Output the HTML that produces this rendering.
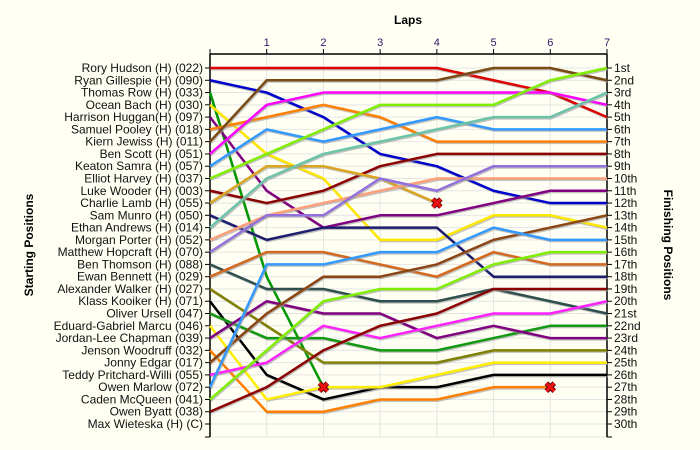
<!DOCTYPE html>
<html><head><meta charset="utf-8"><style>
html,body{margin:0;padding:0;background:#fffff4;}
svg{display:block;font-family:"Liberation Sans",sans-serif;}
</style></head><body>
<svg id="chart" width="700" height="450" viewBox="0 0 700 450">
<rect width="700" height="450" fill="#fffff4"/>
<text x="408" y="24" font-size="12" font-weight="bold" text-anchor="middle">Laps</text>
<text transform="translate(33,245) rotate(-90)" font-size="12" font-weight="bold" text-anchor="middle">Starting Positions</text>
<text transform="translate(664,245) rotate(90)" font-size="12" font-weight="bold" text-anchor="middle">Finishing Positions</text>
<g id="grid"></g><g id="axes"></g><g id="series"></g><g id="markers"></g>
</svg>
<script>
const drivers = ["Rory Hudson (H) (022)","Ryan Gillespie (H) (090)","Thomas Row (H) (033)","Ocean Bach (H) (030)","Harrison Huggan(H) (097)","Samuel Pooley (H) (018)","Kiern Jewiss (H) (011)","Ben Scott (H) (051)","Keaton Samra (H) (057)","Elliot Harvey (H) (037)","Luke Wooder (H) (003)","Charlie Lamb (H) (055)","Sam Munro (H) (050)","Ethan Andrews (H) (014)","Morgan Porter (H) (052)","Matthew Hopcraft (H) (070)","Ben Thomson (H) (088)","Ewan Bennett (H) (029)","Alexander Walker (H) (027)","Klass Kooiker (H) (071)","Oliver Ursell (047)","Eduard-Gabriel Marcu (046)","Jordan-Lee Chapman (039)","Jenson Woodruff (032)","Jonny Edgar (017)","Teddy Pritchard-Willi (055)","Owen Marlow (072)","Caden McQueen (041)","Owen Byatt (038)","Max Wieteska (H) (C)"];
const finishLabels = ["1st","2nd","3rd","4th","5th","6th","7th","8th","9th","10th","11th","12th","13th","14th","15th","16th","17th","18th","19th","20th","21st","22nd","23rd","24th","25th","26th","27th","28th","29th","30th"];
const lapTicks = [1,2,3,4,5,6,7];
// positions at lap 0..7 for each driver (shorter = retired)
const lapPositions = [
[1,1,1,1,1,2,3,5],
[2,3,5,8,9,11,12,12],
[3,18,27],
[4,8,10,15,15,13,13,14],
[5,11,14,13,13,12,11,11],
[6,5,4,5,7,7,7,7],
[7,2,2,2,2,1,1,2],
[8,4,3,3,3,3,3,4],
[9,6,7,6,5,6,6,6],
[10,8,6,4,4,4,2,1],
[11,12,11,9,8,8,8,8],
[12,9,9,10,12],
[13,15,14,14,14,18,18,18],
[14,10,8,7,6,5,5,3],
[15,13,12,11,10,10,10,10],
[16,13,13,10,11,9,9,9],
[17,19,19,20,20,19,20,21],
[18,16,16,17,18,16,17,17],
[19,22,25,25,25,24,24,24],
[20,26,28,27,27,26,26,26],
[21,23,23,24,24,23,22,22],
[22,28,27,27,26,25,25,25],
[23,20,21,21,23,22,23,23],
[24,29,29,28,28,27,27],
[25,21,18,18,17,15,14,13],
[26,25,22,23,22,21,21,20],
[27,17,17,16,16,14,15,15],
[28,24,20,19,19,17,16,16],
[29,27,24,22,21,19,19,19],
[30]
];
const retired = [2,11,23];
const colors = ["#dd0000","#0000cc","#009900","#ffe800","#800080","#ff8000","#7a4a14","#ff00ff","#3399ff","#80ee00","#8b0000","#daa520","#1e1e70","#6cc4a8","#ffa07a","#9370db","#2f4f4f","#d2691e","#808000","#000000","#119911","#ffee00","#800080","#ff8000","#8b4513","#ff22ff","#3399ff","#80ee00","#8b0000","#999999"];

const NS="http://www.w3.org/2000/svg";
const X0=210,X1=607,Y0=54,Y1=437,PY1=68,PY30=424;
const xs=l=>X0+l*(X1-X0)/7;
const ys=p=>PY1+(p-1)*(PY30-PY1)/29;
function mk(tag,attrs,parent){const e=document.createElementNS(NS,tag);for(const k in attrs)e.setAttribute(k,attrs[k]);parent.appendChild(e);return e;}
const grid=document.getElementById('grid'),axes=document.getElementById('axes'),series=document.getElementById('series'),markers=document.getElementById('markers');
for(let p=1;p<=30;p++){const l=mk('line',{x1:X0,x2:X1,y1:ys(p),y2:ys(p),stroke:'#e4e4e4','stroke-width':1},grid);

}
mk('line',{x1:X0,x2:X1,y1:Y1,y2:Y1,stroke:'#e4e4e4'},grid);
lapTicks.forEach(l=>{const g=mk('line',{x1:xs(l),x2:xs(l),y1:Y0,y2:Y1,stroke:'#e4e4e4'},grid);


mk('line',{x1:xs(l),x2:xs(l),y1:Y0-5,y2:Y0,stroke:'#000'},axes);
const t=mk('text',{x:xs(l),y:Y0-8,'font-size':11,'text-anchor':'middle',fill:'#2a1a6a'},axes);t.textContent=l;

});
mk('line',{x1:X0,x2:X0,y1:Y0-5,y2:Y0,stroke:'#000'},axes);
mk('line',{x1:X0,x2:X1,y1:Y0,y2:Y0,stroke:'#000','stroke-width':1.5},axes);
mk('line',{x1:X0,x2:X0,y1:Y0,y2:Y1,stroke:'#000','stroke-width':1.5},axes);
mk('line',{x1:X1,x2:X1,y1:Y0,y2:Y1,stroke:'#000','stroke-width':1.5},axes);
[[X0-5,X0],[X1,X1+5]].forEach(a=>{mk('line',{x1:a[0],x2:a[1],y1:Y1,y2:Y1,stroke:'#000'},axes);});
for(let p=1;p<=30;p++){
mk('line',{x1:X0-5,x2:X0,y1:ys(p),y2:ys(p),stroke:'#000'},axes);
mk('line',{x1:X1,x2:X1+5,y1:ys(p),y2:ys(p),stroke:'#000'},axes);
const t=mk('text',{x:X0-7,y:ys(p)+4,'font-size':12,'text-anchor':'end',fill:'#111'},axes);t.textContent=drivers[p-1];


const r=mk('text',{x:X1+7,y:ys(p)+4,'font-size':12,fill:'#111'},axes);r.textContent=finishLabels[p-1];

}
lapPositions.forEach((ps,i)=>{if(ps.length<2)return;
const pts=ps.map((p,l)=>xs(l)+','+ys(p)).join(' ');
const sh=mk('polyline',{points:ps.map((p,l)=>(xs(l)+1)+','+(ys(p)+1.5)).join(' '),fill:'none',stroke:'#999','stroke-width':2,'stroke-opacity':0.6},series);


const pl=mk('polyline',{points:pts,fill:'none',stroke:colors[i],'stroke-width':2.5,'stroke-linejoin':'round'},series);

});
retired.forEach(i=>{const ps=lapPositions[i];const l=ps.length-1;const cx=xs(l),cy=ys(ps[l]);
const g=mk('g',{},markers);


mk('path',{d:`M${cx-4},${cy-4}L${cx+4},${cy+4}M${cx+4},${cy-4}L${cx-4},${cy+4}`,stroke:'#600',"stroke-width":5},g);
mk('path',{d:`M${cx-4},${cy-4}L${cx+4},${cy+4}M${cx+4},${cy-4}L${cx-4},${cy+4}`,stroke:'#ee1111',"stroke-width":3},g);});
</script>
</body></html>
